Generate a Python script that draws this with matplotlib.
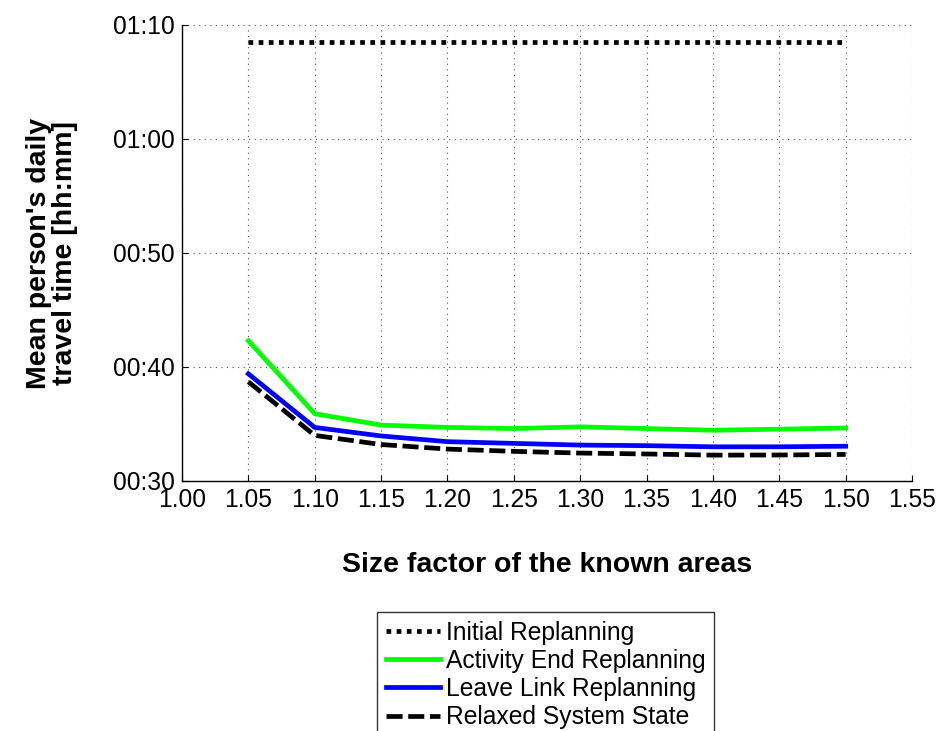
import matplotlib
matplotlib.use("Agg")
import matplotlib.pyplot as plt
from matplotlib.ticker import FuncFormatter, MultipleLocator

plt.rcParams['font.family'] = ['Liberation Sans', 'DejaVu Sans']

size_factor = [1.05, 1.10, 1.15, 1.20, 1.25, 1.30, 1.35, 1.40, 1.45, 1.50]
# mean travel time in minutes
initial_replanning = [68.5, 68.5, 68.5, 68.5, 68.5, 68.5, 68.5, 68.5, 68.5, 68.5]
activity_end = [42.3, 35.9, 34.9, 34.7, 34.6, 34.75, 34.6, 34.45, 34.55, 34.65]
leave_link = [39.4, 34.7, 33.95, 33.45, 33.3, 33.15, 33.1, 33.0, 33.0, 33.05]
relaxed_state = [38.7, 34.0, 33.2, 32.8, 32.6, 32.45, 32.37, 32.27, 32.28, 32.33]

labels = ["Initial Replanning", "Activity End Replanning",
          "Leave Link Replanning", "Relaxed System State"]

W, H = 938, 731
fig = plt.figure(figsize=(W/100, H/100), dpi=100)
ax = fig.add_axes([182/W, 1-481/H, (912-182)/W, (481-25)/H])

lw = 3.4
ax.plot(size_factor, initial_replanning, color='black', lw=lw,
        linestyle=(0, (1.0, 1.15)), label=labels[0])
ax.plot(size_factor, activity_end, color='#00ff00', lw=lw, label=labels[1])
ax.plot(size_factor, leave_link, color='#0000ff', lw=lw, label=labels[2])
ax.plot(size_factor, relaxed_state, color='black', lw=lw,
        linestyle=(0, (3.4, 1.2)), label=labels[3])

ax.set_xlim(1.00, 1.55)
ax.set_ylim(30, 70)
ax.xaxis.set_major_locator(MultipleLocator(0.05))
ax.yaxis.set_major_locator(MultipleLocator(10))
ax.xaxis.set_major_formatter(FuncFormatter(lambda v, p: f"{v:.2f}"))
ax.yaxis.set_major_formatter(FuncFormatter(
    lambda v, p: f"{int(round(v))//60:02d}:{int(round(v))%60:02d}"))

ax.grid(True, linestyle=(0, (1, 4)), color='#555555', lw=0.8)
ax.spines['top'].set_visible(False)
ax.spines['right'].set_visible(False)
for s in ['left', 'bottom']:
    ax.spines[s].set_linewidth(1.0)
ax.tick_params(direction='in', length=4, labelsize=17.7, pad=5)

fig.text(547/W, 1-565/H, "Size factor of the known areas", fontsize=20.5,
         fontweight='bold', ha='center', va='center')
fig.text(52/W, 1-253/H, "Mean person's daily\ntravel time [hh:mm]",
         fontsize=20.5, fontweight='bold', rotation=90, ha='center',
         va='center', linespacing=1.0)

leg = fig.legend(loc='upper left', bbox_to_anchor=(377/W, 1-612/H),
                 bbox_transform=fig.transFigure, fontsize=17.7, frameon=True,
                 fancybox=False, edgecolor='black', borderaxespad=0,
                 handlelength=2.2, handletextpad=0.25, labelspacing=0.17,
                 borderpad=0.35)
leg.get_frame().set_linewidth(1.0)

fig.savefig("out.png", dpi=100)
